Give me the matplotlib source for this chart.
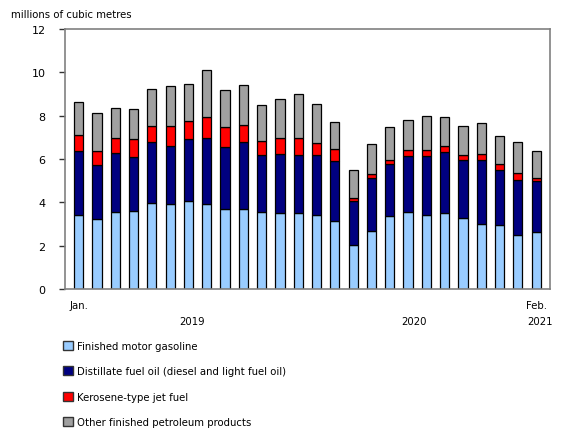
import matplotlib
matplotlib.use('Agg')
import matplotlib.pyplot as plt
import matplotlib.transforms as mtransforms
import numpy as np
from matplotlib.patches import Patch

# Monthly sales, Jan. 2019 to Feb. 2021 (millions of cubic metres)
months = ['Jan. 2019', 'Feb. 2019', 'Mar. 2019', 'Apr. 2019', 'May 2019', 'Jun. 2019',
          'Jul. 2019', 'Aug. 2019', 'Sep. 2019', 'Oct. 2019', 'Nov. 2019', 'Dec. 2019',
          'Jan. 2020', 'Feb. 2020', 'Mar. 2020', 'Apr. 2020', 'May 2020', 'Jun. 2020',
          'Jul. 2020', 'Aug. 2020', 'Sep. 2020', 'Oct. 2020', 'Nov. 2020', 'Dec. 2020',
          'Jan. 2021', 'Feb. 2021']
gasoline = [3.42, 3.22, 3.55, 3.60, 3.97, 3.91, 4.05, 3.94, 3.71, 3.72, 3.54, 3.49,
            3.49, 3.42, 3.15, 2.03, 2.69, 3.37, 3.58, 3.40, 3.52, 3.26, 3.02, 2.95,
            2.48, 2.65]
distillate = [2.93, 2.52, 2.71, 2.49, 2.81, 2.71, 2.86, 3.01, 2.84, 3.05, 2.64, 2.73,
              2.68, 2.75, 2.76, 2.03, 2.43, 2.41, 2.56, 2.74, 2.79, 2.68, 2.92, 2.53,
              2.55, 2.32]
jet_fuel = [0.77, 0.61, 0.72, 0.83, 0.73, 0.90, 0.83, 0.97, 0.91, 0.81, 0.65, 0.73,
            0.78, 0.58, 0.54, 0.14, 0.17, 0.19, 0.29, 0.29, 0.31, 0.26, 0.28, 0.29,
            0.31, 0.18]
other = [1.50, 1.76, 1.39, 1.37, 1.72, 1.83, 1.72, 2.20, 1.72, 1.82, 1.65, 1.83,
         2.07, 1.77, 1.27, 1.31, 1.42, 1.49, 1.37, 1.55, 1.30, 1.32, 1.44, 1.28,
         1.43, 1.20]

series = [gasoline, distillate, jet_fuel, other]
labels = ['Finished motor gasoline',
          'Distillate fuel oil (diesel and light fuel oil)',
          'Kerosene-type jet fuel',
          'Other finished petroleum products']
colors = ['#99CCFF', '#000080', '#FF0000', '#A0A0A0']

plt.rcParams['font.family'] = ['DejaVu Sans']

fig = plt.figure(figsize=(5.8, 4.35), dpi=100)
ax = fig.add_axes([0.112, 0.333, 0.836, 0.598])

x = np.arange(len(months))
bottom = np.zeros(len(months))
for vals, col in zip(series, colors):
    ax.bar(x, vals, width=0.5, bottom=bottom, color=col,
           edgecolor='black', linewidth=0.9, zorder=2)
    bottom += np.array(vals)

ax.set_ylim(0, 12)
ax.set_xlim(-0.75, len(months) - 0.25)
ax.set_yticks(range(0, 13, 2))
ax.tick_params(axis='y', labelsize=8, length=4, width=1, color='#333333', pad=10)
ax.tick_params(axis='x', length=0)
ax.set_xticks([])

for s in ax.spines.values():
    s.set_color('#808080')
    s.set_linewidth(1.2)

ax.text(-0.112, 1.04, 'millions of cubic metres', transform=ax.transAxes,
        fontsize=7.3, ha='left', va='bottom')

trans = mtransforms.blended_transform_factory(ax.transData, ax.transAxes)
ax.text(0, -0.04, 'Jan.', transform=trans, ha='center', va='top', fontsize=7.3)
ax.text(25, -0.04, 'Feb.', transform=trans, ha='center', va='top', fontsize=7.3)
ax.text(6.2, -0.105, '2019', transform=trans, ha='center', va='top', fontsize=7.3)
ax.text(18.3, -0.105, '2020', transform=trans, ha='center', va='top', fontsize=7.3)
ax.text(25.2, -0.105, '2021', transform=trans, ha='center', va='top', fontsize=7.3)

handles = [Patch(facecolor=c, edgecolor='#333333', linewidth=1) for c in colors]
fig.legend(handles, labels, loc='upper left', bbox_to_anchor=(0.108, 0.214),
           frameon=False, fontsize=7.3, ncol=1, handlelength=1.0, handleheight=1.0,
           handletextpad=0.45, labelspacing=1.52, borderaxespad=0, borderpad=0)

fig.savefig('out.png', dpi=100)
